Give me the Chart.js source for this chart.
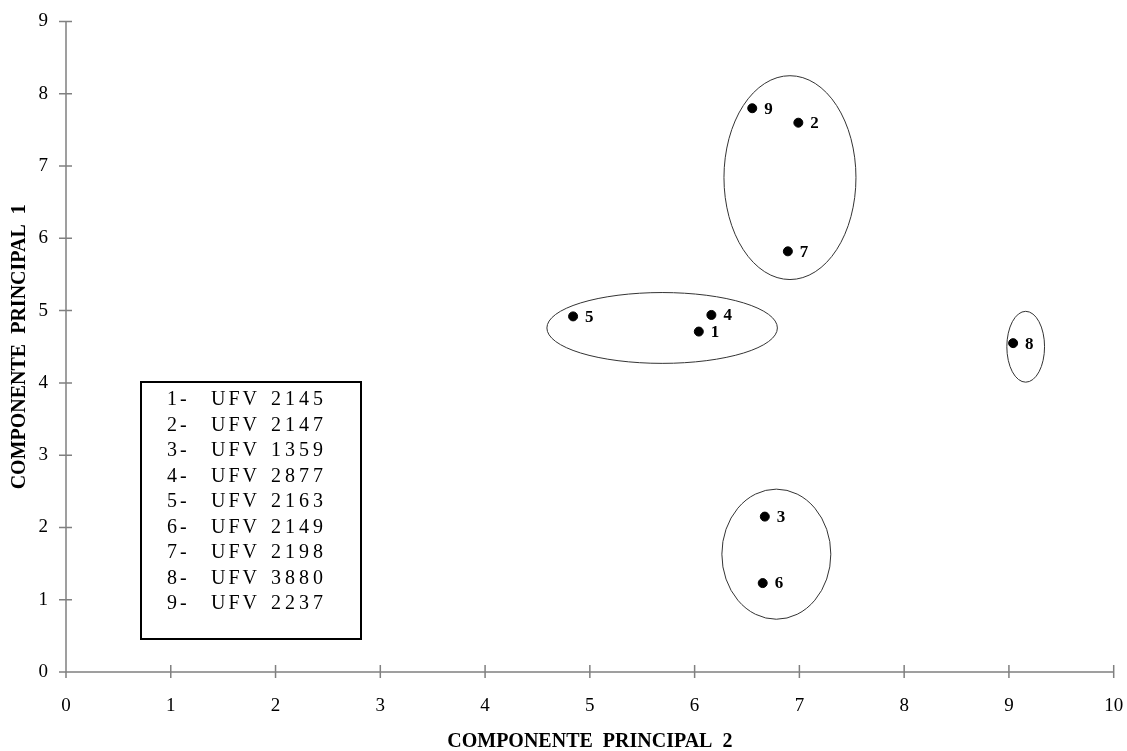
<!DOCTYPE html>
<html>
<head>
<meta charset="utf-8">
<script src="https://cdn.jsdelivr.net/npm/chart.js@4"></script>
<style>
  html, body { margin: 0; padding: 0; background: #fff; }
  #wrap { width: 1127px; height: 751px; }
</style>
</head>
<body>
<div id="wrap"><canvas id="pcaChart" width="1127" height="751"></canvas></div>
<script>
// Dados (componente principal 2 no eixo x, componente principal 1 no eixo y)
const pointLabels = ['1', '2', '3', '4', '5', '6', '7', '8', '9'];
const cp2 = [6.04, 6.99, 6.67, 6.16, 4.84, 6.65, 6.89, 9.04, 6.55];
const cp1 = [4.71, 7.60, 2.15, 4.94, 4.92, 1.23, 5.82, 4.55, 7.80];

const genotypes = ['UFV 2145', 'UFV 2147', 'UFV 1359', 'UFV 2877', 'UFV 2163',
                   'UFV 2149', 'UFV 2198', 'UFV 3880', 'UFV 2237'];

const xTicks = [0, 1, 2, 3, 4, 5, 6, 7, 8, 9, 10];
const yTicks = [0, 1, 2, 3, 4, 5, 6, 7, 8, 9];

// Grupos (elipses) em unidades dos eixos
const groupCx = [6.91, 5.69, 9.16, 6.78];
const groupCy = [6.84, 4.76, 4.50, 1.63];
const groupRx = [0.63, 1.10, 0.18, 0.52];
const groupRy = [1.41, 0.49, 0.49, 0.90];

const serif = '"Liberation Serif", "Times New Roman", serif';

// Eixos com marcas cruzadas, elipses, rótulos e caixa de legenda
const decorPlugin = {
    id: 'decor',
    beforeDatasetsDraw(chart) {
        const ctx = chart.ctx;
        const x = chart.scales.x;
        const y = chart.scales.y;
        const x0 = x.getPixelForValue(0);
        const y0 = y.getPixelForValue(0);
        ctx.save();
        ctx.strokeStyle = '#808080';
        ctx.lineWidth = 1.5;
        ctx.beginPath();
        ctx.moveTo(x0, y.getPixelForValue(9));
        ctx.lineTo(x0, y0);
        ctx.lineTo(x.getPixelForValue(10), y0);
        yTicks.forEach(v => {
            const py = y.getPixelForValue(v);
            ctx.moveTo(x0 - 7, py);
            ctx.lineTo(x0 + 6, py);
        });
        xTicks.forEach(v => {
            const px = x.getPixelForValue(v);
            ctx.moveTo(px, y0 - 7);
            ctx.lineTo(px, y0 + 6);
        });
        ctx.stroke();

        // elipses dos grupos
        ctx.strokeStyle = '#333';
        ctx.lineWidth = 1;
        groupCx.forEach((cx, i) => {
            const px = x.getPixelForValue(cx);
            const py = y.getPixelForValue(groupCy[i]);
            const rx = Math.abs(x.getPixelForValue(cx + groupRx[i]) - px);
            const ry = Math.abs(y.getPixelForValue(groupCy[i] + groupRy[i]) - py);
            ctx.beginPath();
            ctx.ellipse(px, py, rx, ry, 0, 0, Math.PI * 2);
            ctx.stroke();
        });

        // caixa de legenda
        ctx.strokeStyle = '#000';
        ctx.lineWidth = 2;
        ctx.strokeRect(141, 382, 220, 257);
        ctx.fillStyle = '#000';
        ctx.font = '20px ' + serif;
        ctx.textBaseline = 'middle';
        genotypes.forEach((g, i) => {
            const ly = 400 + i * 25.5;
            const parts = g.split(' ');
            ctx.letterSpacing = '3px';
            ctx.fillText(pointLabels[i] + '-', 167, ly);
            ctx.letterSpacing = '3px';
            ctx.fillText(parts[0], 211, ly);
            ctx.letterSpacing = '4px';
            ctx.fillText(parts[1], 271, ly);
        });
        ctx.letterSpacing = '0px';

        // títulos dos eixos
        ctx.font = 'bold 20px ' + serif;
        ctx.textAlign = 'center';
        ctx.textBaseline = 'alphabetic';
        ctx.fillText('COMPONENTE  PRINCIPAL  2', (x.left + x.right) / 2, 747);
        ctx.translate(25, (y.top + y.bottom) / 2);
        ctx.rotate(-Math.PI / 2);
        ctx.fillText('COMPONENTE  PRINCIPAL  1', 0, 0);
        ctx.restore();
    },
    afterDatasetsDraw(chart) {
        const ctx = chart.ctx;
        const meta = chart.getDatasetMeta(0);
        ctx.save();
        ctx.fillStyle = '#000';
        ctx.font = 'bold 17px ' + serif;
        ctx.textBaseline = 'middle';
        meta.data.forEach((pt, i) => {
            ctx.fillText(pointLabels[i], pt.x + 12, pt.y + 1);
        });
        ctx.restore();
    }
};

const ctx = document.getElementById('pcaChart').getContext('2d');
const pcaChart = new Chart(ctx, {
    type: 'scatter',
    data: {
        datasets: [{
            label: 'Genótipos',
            data: cp2.map((v, i) => ({ x: v, y: cp1[i] })),
            backgroundColor: '#000',
            borderColor: '#000',
            pointRadius: 4.5,
            pointHoverRadius: 4.5
        }]
    },
    options: {
        responsive: false,
        animation: false,
        layout: {
            padding: { left: 0, right: 13.3, top: 21.5, bottom: 0 }
        },
        plugins: {
            legend: { display: false },
            tooltip: { enabled: false }
        },
        scales: {
            x: {
                type: 'linear',
                min: 0,
                max: 10,
                afterBuildTicks: scale => { scale.ticks = xTicks.map(v => ({ value: v })); },
                afterFit: scale => {
                    scale.height = 79;
                    scale.paddingLeft = 0;
                    scale.paddingRight = 0;
                },
                grid: { display: false },
                border: { display: false },
                ticks: {
                    padding: 15,
                    color: '#000',
                    font: { family: serif, size: 19 },
                    maxRotation: 0
                }
            },
            y: {
                type: 'linear',
                min: 0,
                max: 9,
                afterBuildTicks: scale => { scale.ticks = yTicks.map(v => ({ value: v })); },
                afterFit: scale => {
                    scale.width = 66;
                    scale.paddingTop = 0;
                    scale.paddingBottom = 0;
                },
                grid: { display: false },
                border: { display: false },
                ticks: {
                    padding: 10,
                    color: '#000',
                    font: { family: serif, size: 19 }
                }
            }
        }
    },
    plugins: [decorPlugin]
});
</script>
</body>
</html>
